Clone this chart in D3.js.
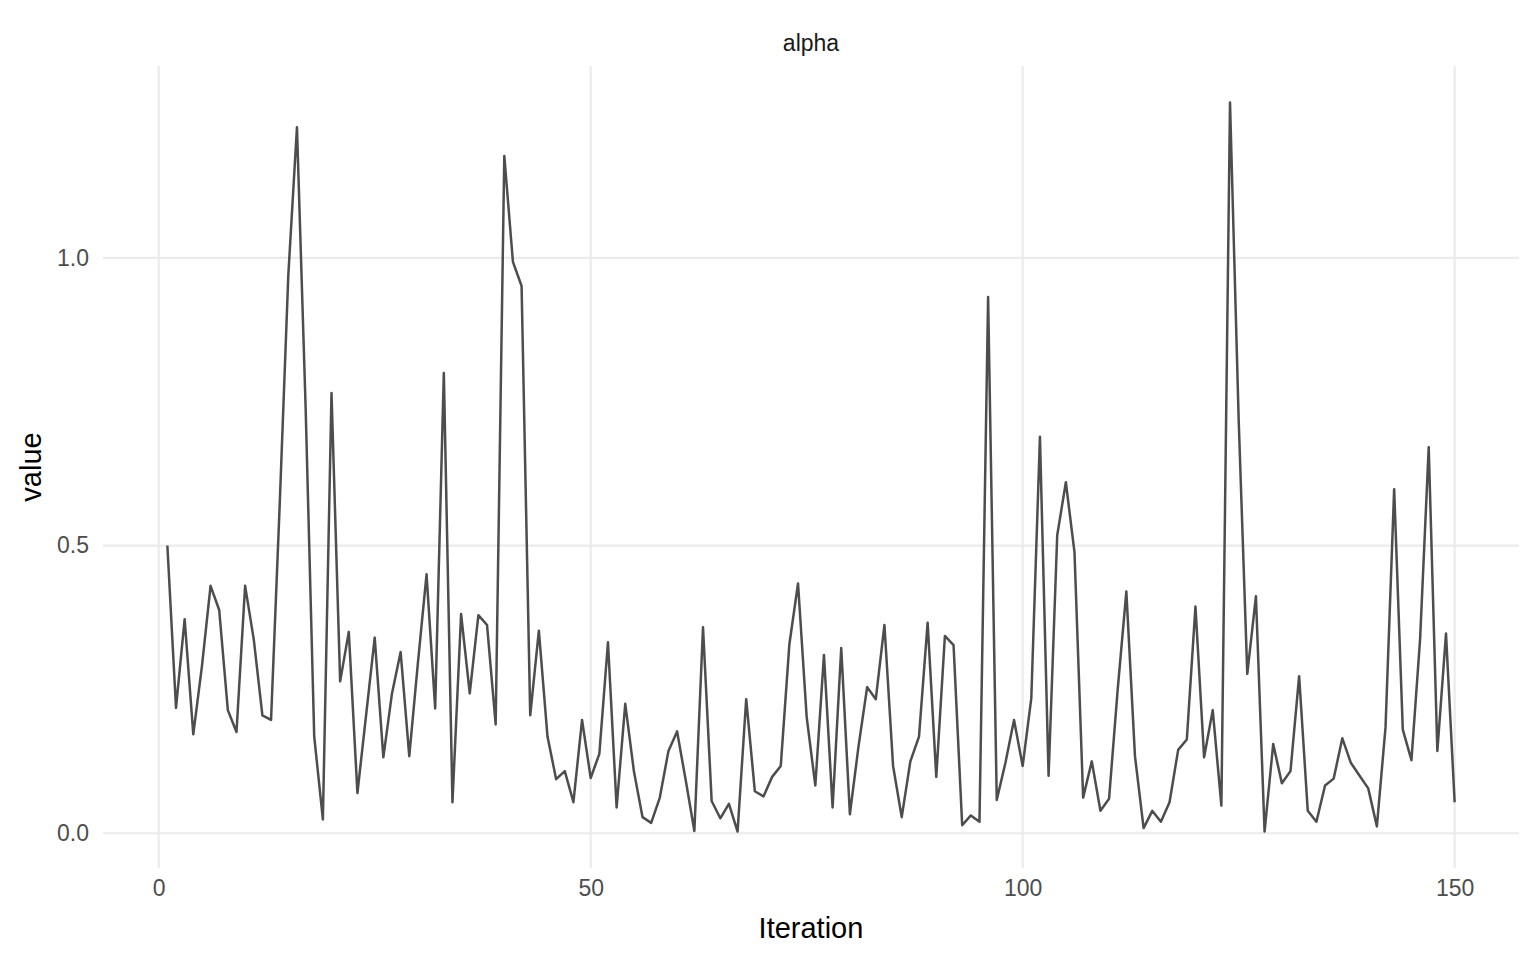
<!DOCTYPE html>
<html>
<head>
<meta charset="utf-8">
<script src="https://cdn.jsdelivr.net/npm/d3@7"></script>
<style>
  body { margin: 0; background: #fff; }
  text { font-family: "Liberation Sans", Arial, sans-serif; }
</style>
</head>
<body>
<svg id="chart" width="1536" height="960"></svg>
<script>
// trace values for alpha, iterations 1..150
var iterations = d3.range(1, 151);
var alphaValues = [
  0.50, 0.218, 0.372, 0.172, 0.29, 0.43, 0.388, 0.214, 0.176, 0.43,
  0.337, 0.205, 0.197, 0.57, 0.97, 1.227, 0.742, 0.168, 0.024, 0.765,
  0.264, 0.35, 0.07, 0.205, 0.34, 0.132, 0.243, 0.315, 0.134, 0.296,
  0.45, 0.217, 0.80, 0.054, 0.381, 0.243, 0.379, 0.362, 0.189, 1.177,
  0.993, 0.951, 0.205, 0.352, 0.168, 0.094, 0.108, 0.054, 0.197, 0.096,
  0.138, 0.332, 0.045, 0.225, 0.108, 0.028, 0.018, 0.062, 0.143, 0.177,
  0.092, 0.004, 0.358, 0.056, 0.026, 0.051, 0.003, 0.233, 0.073, 0.064,
  0.098, 0.117, 0.329, 0.434, 0.202, 0.083, 0.31, 0.045, 0.322, 0.033,
  0.151, 0.254, 0.233, 0.362, 0.117, 0.028, 0.125, 0.168, 0.366, 0.098,
  0.343, 0.327, 0.014, 0.031, 0.02, 0.932, 0.058, 0.122, 0.197, 0.117,
  0.235, 0.689, 0.10, 0.518, 0.61, 0.488, 0.062, 0.125, 0.039, 0.06,
  0.25, 0.42, 0.134, 0.009, 0.039, 0.02, 0.054, 0.145, 0.163, 0.394,
  0.132, 0.214, 0.048, 1.27, 0.72, 0.277, 0.412, 0.003, 0.155, 0.087,
  0.108, 0.273, 0.039, 0.02, 0.083, 0.095, 0.165, 0.122, 0.10, 0.078,
  0.012, 0.184, 0.598, 0.18, 0.127, 0.337, 0.671, 0.143, 0.347, 0.054
];
var xTicks = [0, 50, 100, 150];
var yTicks = [0, 0.5, 1.0];
var facetLabel = "alpha";

var data = iterations.map(function (it, i) { return {iter: it, value: alphaValues[i]}; });

var svg = d3.select("#chart"),
    margin = {top: 66, left: 103, right: 17, bottom: 92},
    width = 1536 - margin.left - margin.right,
    height = 960 - margin.top - margin.bottom,
    g = svg.append("g").attr("transform", "translate(" + margin.left + "," + margin.top + ")");

// ggplot style 5% expansion
var xExt = d3.extent(iterations), xPad = (xExt[1] - xExt[0]) * 0.05;
var yExt = d3.extent(alphaValues), yPad = (yExt[1] - yExt[0]) * 0.05;

var x = d3.scaleLinear()
    .domain([xExt[0] - xPad, xExt[1] + xPad])
    .range([0, width]);

var y = d3.scaleLinear()
    .domain([yExt[0] - yPad, yExt[1] + yPad])
    .range([height, 0]);

// grid
g.selectAll(".vgrid")
    .data(xTicks)
    .enter()
    .append("line")
    .attr("x1", function (d) { return x(d); })
    .attr("x2", function (d) { return x(d); })
    .attr("y1", 0)
    .attr("y2", height)
    .attr("stroke", "#ebebeb")
    .attr("stroke-width", 2.2);

g.selectAll(".hgrid")
    .data(yTicks)
    .enter()
    .append("line")
    .attr("x1", 0)
    .attr("x2", width)
    .attr("y1", function (d) { return y(d); })
    .attr("y2", function (d) { return y(d); })
    .attr("stroke", "#ebebeb")
    .attr("stroke-width", 2.2);

// axes, text only
var xAxis = g.append("g")
    .attr("transform", "translate(0," + height + ")")
    .call(d3.axisBottom(x).tickValues(xTicks).tickSize(0).tickPadding(12).tickFormat(d3.format("d")));

var yAxis = g.append("g")
    .call(d3.axisLeft(y).tickValues(yTicks).tickSize(0).tickPadding(14).tickFormat(d3.format(".1f")));

[xAxis, yAxis].forEach(function (a) {
    a.select(".domain").remove();
    a.selectAll("text")
        .attr("fill", "#4d4d4d")
        .style("font-size", "23px");
});

// trace line
var line = d3.line()
    .x(function (d) { return x(d.iter); })
    .y(function (d) { return y(d.value); });

g.append("path")
    .datum(data)
    .attr("fill", "none")
    .attr("stroke", "#4d4d4d")
    .attr("stroke-width", 2.5)
    .attr("stroke-linejoin", "round")
    .attr("d", line);

// facet strip
svg.append("text")
    .attr("x", margin.left + width / 2)
    .attr("y", 51)
    .attr("text-anchor", "middle")
    .attr("fill", "#1a1a1a")
    .style("font-size", "23px")
    .text(facetLabel);

// axis titles
svg.append("text")
    .attr("x", margin.left + width / 2)
    .attr("y", 938)
    .attr("text-anchor", "middle")
    .attr("fill", "#000")
    .style("font-size", "29px")
    .text("Iteration");

svg.append("text")
    .attr("transform", "translate(41," + (margin.top + height / 2) + ") rotate(-90)")
    .attr("text-anchor", "middle")
    .attr("fill", "#000")
    .style("font-size", "29px")
    .text("value");
</script>
</body>
</html>
